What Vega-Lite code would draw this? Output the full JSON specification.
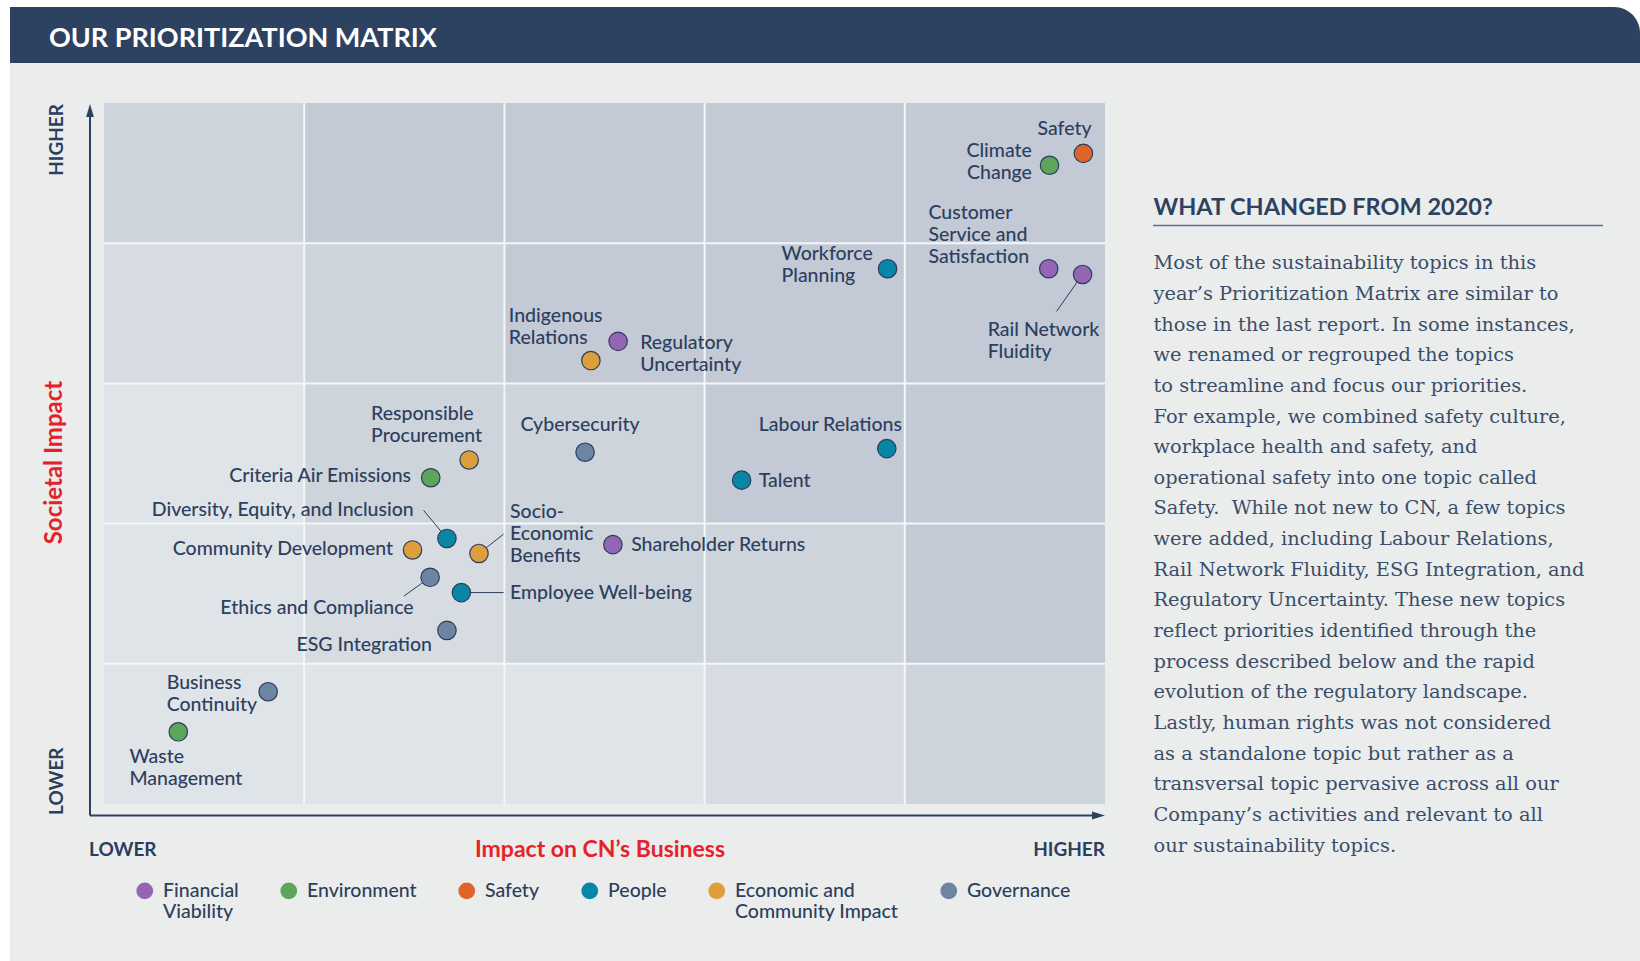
{
  "$schema": "https://vega.github.io/schema/vega-lite/v6.json",
  "width": 1640,
  "height": 961,
  "autosize": {"type": "none"},
  "padding": 0,
  "background": "#FFFFFF",
  "config": {"view": {"stroke": null}, "axis": {"disable": true}, "font": "Lato"},
  "datasets": {
    "topics": [
      {"topic": "Safety", "cat": "Safety", "impact": 4.892, "societal": 4.641, "label": "Safety", "lx": 4.933, "ly": 4.818, "side": "right"},
      {"topic": "Climate Change", "cat": "Environment", "impact": 4.723, "societal": 4.556, "label": ["Climate", "Change"], "lx": 4.635, "ly": 4.6555, "side": "right"},
      {"topic": "Customer Service and Satisfaction", "cat": "Financial Viability", "impact": 4.719, "societal": 3.818, "label": ["Customer", "Service and", "Satisfaction"], "lx": 4.118, "ly": 4.2119, "side": "left"},
      {"topic": "Rail Network Fluidity", "cat": "Financial Viability", "impact": 4.888, "societal": 3.777, "label": ["Rail Network", "Fluidity"], "lx": 4.414, "ly": 3.3835, "side": "left", "endImpact": 4.758, "endSocietal": 3.514},
      {"topic": "Workforce Planning", "cat": "People", "impact": 3.914, "societal": 3.818, "label": ["Workforce", "Planning"], "lx": 3.384, "ly": 3.9195, "side": "left"},
      {"topic": "Indigenous Relations", "cat": "Economic and Community Impact", "impact": 2.432, "societal": 3.163, "label": ["Indigenous", "Relations"], "lx": 2.022, "ly": 3.4825, "side": "left"},
      {"topic": "Regulatory Uncertainty", "cat": "Financial Viability", "impact": 2.568, "societal": 3.3, "label": ["Regulatory", "Uncertainty"], "lx": 2.678, "ly": 3.2915, "side": "left"},
      {"topic": "Cybersecurity", "cat": "Governance", "impact": 2.403, "societal": 2.509, "label": "Cybersecurity", "lx": 2.08, "ly": 2.703, "side": "left"},
      {"topic": "Labour Relations", "cat": "People", "impact": 3.91, "societal": 2.535, "label": "Labour Relations", "lx": 3.27, "ly": 2.703, "side": "left"},
      {"topic": "Talent", "cat": "People", "impact": 3.185, "societal": 2.31, "label": "Talent", "lx": 3.27, "ly": 2.307, "side": "left"},
      {"topic": "Responsible Procurement", "cat": "Economic and Community Impact", "impact": 1.824, "societal": 2.454, "label": ["Responsible", "Procurement"], "lx": 1.334, "ly": 2.7835, "side": "left"},
      {"topic": "Criteria Air Emissions", "cat": "Environment", "impact": 1.632, "societal": 2.327, "label": "Criteria Air Emissions", "lx": 1.534, "ly": 2.34, "side": "right"},
      {"topic": "Diversity, Equity, and Inclusion", "cat": "People", "impact": 1.713, "societal": 1.894, "label": "Diversity, Equity, and Inclusion", "lx": 1.547, "ly": 2.097, "side": "right", "endImpact": 1.596, "endSocietal": 2.095},
      {"topic": "Community Development", "cat": "Economic and Community Impact", "impact": 1.541, "societal": 1.812, "label": "Community Development", "lx": 1.444, "ly": 1.822, "side": "right"},
      {"topic": "Socio-Economic Benefits", "cat": "Economic and Community Impact", "impact": 1.873, "societal": 1.787, "label": ["Socio-", "Economic", "Benefits"], "lx": 2.028, "ly": 2.0849, "side": "left", "endImpact": 1.996, "endSocietal": 1.925},
      {"topic": "Shareholder Returns", "cat": "Financial Viability", "impact": 2.542, "societal": 1.85, "label": "Shareholder Returns", "lx": 2.633, "ly": 1.849, "side": "left"},
      {"topic": "Ethics and Compliance", "cat": "Governance", "impact": 1.629, "societal": 1.617, "label": "Ethics and Compliance", "lx": 1.547, "ly": 1.398, "side": "right", "endImpact": 1.4985, "endSocietal": 1.4836},
      {"topic": "Employee Well-being", "cat": "People", "impact": 1.785, "societal": 1.508, "label": "Employee Well-being", "lx": 2.028, "ly": 1.508, "side": "left", "endImpact": 1.996, "endSocietal": 1.508},
      {"topic": "ESG Integration", "cat": "Governance", "impact": 1.713, "societal": 1.238, "label": "ESG Integration", "lx": 1.638, "ly": 1.134, "side": "right"},
      {"topic": "Business Continuity", "cat": "Governance", "impact": 0.82, "societal": 0.801, "label": ["Business", "Continuity"], "lx": 0.313, "ly": 0.8645, "side": "left"},
      {"topic": "Waste Management", "cat": "Environment", "impact": 0.371, "societal": 0.515, "label": ["Waste", "Management"], "lx": 0.127, "ly": 0.3355, "side": "left"}
    ],
    "cells": [
      {"c0": 0, "c1": 1, "r0": 4, "r1": 5, "shade": 2},
      {"c0": 1, "c1": 2, "r0": 4, "r1": 5, "shade": 3},
      {"c0": 2, "c1": 3, "r0": 4, "r1": 5, "shade": 3},
      {"c0": 3, "c1": 4, "r0": 4, "r1": 5, "shade": 3},
      {"c0": 4, "c1": 5, "r0": 4, "r1": 5, "shade": 3},
      {"c0": 0, "c1": 1, "r0": 3, "r1": 4, "shade": 1},
      {"c0": 1, "c1": 2, "r0": 3, "r1": 4, "shade": 2},
      {"c0": 2, "c1": 3, "r0": 3, "r1": 4, "shade": 3},
      {"c0": 3, "c1": 4, "r0": 3, "r1": 4, "shade": 3},
      {"c0": 4, "c1": 5, "r0": 3, "r1": 4, "shade": 3},
      {"c0": 0, "c1": 1, "r0": 2, "r1": 3, "shade": 0},
      {"c0": 1, "c1": 2, "r0": 2, "r1": 3, "shade": 2},
      {"c0": 2, "c1": 3, "r0": 2, "r1": 3, "shade": 2},
      {"c0": 3, "c1": 4, "r0": 2, "r1": 3, "shade": 3},
      {"c0": 4, "c1": 5, "r0": 2, "r1": 3, "shade": 3},
      {"c0": 0, "c1": 1, "r0": 1, "r1": 2, "shade": 0},
      {"c0": 1, "c1": 2, "r0": 1, "r1": 2, "shade": 1},
      {"c0": 2, "c1": 3, "r0": 1, "r1": 2, "shade": 2},
      {"c0": 3, "c1": 4, "r0": 1, "r1": 2, "shade": 2},
      {"c0": 4, "c1": 5, "r0": 1, "r1": 2, "shade": 3},
      {"c0": 0, "c1": 1, "r0": 0, "r1": 1, "shade": 0},
      {"c0": 1, "c1": 2, "r0": 0, "r1": 1, "shade": 0},
      {"c0": 2, "c1": 3, "r0": 0, "r1": 1, "shade": 0},
      {"c0": 3, "c1": 4, "r0": 0, "r1": 1, "shade": 1},
      {"c0": 4, "c1": 5, "r0": 0, "r1": 1, "shade": 2}
    ],
    "gridlines": [{"at": 1}, {"at": 2}, {"at": 3}, {"at": 4}]
  },
  "layer": [
    {
      "data": {"values": [{"part": "panel"}]},
      "mark": {"type": "rect", "fill": "#EBEDEC"},
      "encoding": {
        "x": {"datum": -0.46953, "type": "quantitative", "scale": {"domain": [-0.51948, 7.67233], "nice": false, "zero": false}, "axis": null},
        "x2": {"datum": 7.67233},
        "y": {"datum": 5.28531, "type": "quantitative", "scale": {"domain": [-1.11983, 5.73466], "nice": false, "zero": false}, "axis": null},
        "y2": {"datum": -1.11983}
      }
    },
    {
      "data": {"values": [{"part": "header"}]},
      "mark": {"type": "rect", "fill": "#2C4260", "cornerRadiusTopRight": 26},
      "encoding": {
        "x": {"datum": -0.46953, "type": "quantitative"},
        "x2": {"datum": 7.67233},
        "y": {"datum": 5.68474, "type": "quantitative"},
        "y2": {"datum": 5.28531}
      }
    },
    {
      "data": {"values": [{"t": "OUR PRIORITIZATION MATRIX"}]},
      "mark": {"type": "text", "align": "left", "baseline": "alphabetic", "font": "Lato", "fontWeight": 700, "fontSize": 27, "fill": "#FFFFFF"},
      "encoding": {
        "x": {"datum": -0.27473, "type": "quantitative"},
        "y": {"datum": 5.3995, "type": "quantitative"},
        "text": {"field": "t"}
      }
    },
    {
      "data": {"name": "cells"},
      "mark": {"type": "rect"},
      "encoding": {
        "x": {"field": "c0", "type": "quantitative", "scale": {"domain": [-0.51948, 7.67233], "nice": false, "zero": false}, "axis": null},
        "x2": {"field": "c1"},
        "y": {"field": "r0", "type": "quantitative", "scale": {"domain": [-1.11983, 5.73466], "nice": false, "zero": false}, "axis": null},
        "y2": {"field": "r1"},
        "fill": {"field": "shade", "type": "ordinal", "scale": {"domain": [0, 1, 2, 3], "range": ["#DFE4E8", "#D6DCE2", "#CDD4DC", "#C3CAD6"]}, "legend": null}
      }
    },
    {
      "data": {"name": "gridlines"},
      "mark": {"type": "rule", "stroke": "#F4F6F7", "strokeWidth": 2},
      "encoding": {
        "x": {"field": "at", "type": "quantitative"},
        "y": {"datum": 0, "type": "quantitative"},
        "y2": {"datum": 5}
      }
    },
    {
      "data": {"name": "gridlines"},
      "mark": {"type": "rule", "stroke": "#F4F6F7", "strokeWidth": 2},
      "encoding": {
        "y": {"field": "at", "type": "quantitative"},
        "x": {"datum": 0, "type": "quantitative"},
        "x2": {"datum": 5}
      }
    },
    {
      "data": {"values": [{"part": "y axis"}]},
      "mark": {"type": "rule", "stroke": "#2C4260", "strokeWidth": 2},
      "encoding": {
        "x": {"datum": -0.06993, "type": "quantitative"},
        "y": {"datum": -0.08203, "type": "quantitative"},
        "y2": {"datum": 4.9465}
      }
    },
    {
      "data": {"values": [{"part": "x axis"}]},
      "mark": {"type": "rule", "stroke": "#2C4260", "strokeWidth": 2},
      "encoding": {
        "y": {"datum": -0.08203, "type": "quantitative"},
        "x": {"datum": -0.06993, "type": "quantitative"},
        "x2": {"datum": 4.96753}
      }
    },
    {
      "data": {"values": [{"part": "y arrow"}]},
      "mark": {"type": "point", "shape": "M0,-1L0.6,1L-0.6,1Z", "size": 169, "filled": true, "fill": "#2C4260", "opacity": 1, "strokeWidth": 0},
      "encoding": {
        "x": {"datum": -0.06993, "type": "quantitative"},
        "y": {"datum": 4.9465, "type": "quantitative"}
      }
    },
    {
      "data": {"values": [{"part": "x arrow"}]},
      "mark": {"type": "point", "shape": "M1,0L-1,0.6L-1,-0.6Z", "size": 169, "filled": true, "fill": "#2C4260", "opacity": 1, "strokeWidth": 0},
      "encoding": {
        "x": {"datum": 4.96753, "type": "quantitative"},
        "y": {"datum": -0.08203, "type": "quantitative"}
      }
    },
    {
      "data": {"values": [{"t": "HIGHER"}]},
      "mark": {"type": "text", "angle": 270, "align": "right", "baseline": "middle", "font": "Lato", "fontWeight": 700, "fontSize": 19, "fill": "#2C3E5D"},
      "encoding": {"x": {"datum": -0.23477, "type": "quantitative"}, "y": {"datum": 4.99287, "type": "quantitative"}, "text": {"field": "t"}}
    },
    {
      "data": {"values": [{"t": "LOWER"}]},
      "mark": {"type": "text", "angle": 270, "align": "left", "baseline": "middle", "font": "Lato", "fontWeight": 700, "fontSize": 19, "fill": "#2C3E5D"},
      "encoding": {"x": {"datum": -0.23477, "type": "quantitative"}, "y": {"datum": -0.07846, "type": "quantitative"}, "text": {"field": "t"}}
    },
    {
      "data": {"values": [{"t": "Societal Impact"}]},
      "mark": {"type": "text", "angle": 270, "align": "center", "baseline": "middle", "font": "Lato", "fontWeight": 700, "fontSize": 24, "fill": "#E8202A"},
      "encoding": {"x": {"datum": -0.24476, "type": "quantitative"}, "y": {"datum": 2.43581, "type": "quantitative"}, "text": {"field": "t"}}
    },
    {
      "data": {"values": [{"t": "LOWER"}]},
      "mark": {"type": "text", "align": "left", "baseline": "middle", "font": "Lato", "fontWeight": 700, "fontSize": 19, "fill": "#2C3E5D"},
      "encoding": {"x": {"datum": -0.07493, "type": "quantitative"}, "y": {"datum": -0.3281, "type": "quantitative"}, "text": {"field": "t"}}
    },
    {
      "data": {"values": [{"t": "HIGHER"}]},
      "mark": {"type": "text", "align": "right", "baseline": "middle", "font": "Lato", "fontWeight": 700, "fontSize": 19, "fill": "#2C3E5D"},
      "encoding": {"x": {"datum": 5.0, "type": "quantitative"}, "y": {"datum": -0.3281, "type": "quantitative"}, "text": {"field": "t"}}
    },
    {
      "data": {"values": [{"t": "Impact on CN’s Business"}]},
      "mark": {"type": "text", "align": "center", "baseline": "middle", "font": "Lato", "fontWeight": 700, "fontSize": 23, "fill": "#E8202A"},
      "encoding": {"x": {"datum": 2.47752, "type": "quantitative"}, "y": {"datum": -0.3281, "type": "quantitative"}, "text": {"field": "t"}}
    },
    {
      "data": {"name": "topics"},
      "transform": [{"filter": "isValid(datum.endImpact)"}],
      "mark": {"type": "rule", "stroke": "#2C3E5D", "strokeWidth": 1},
      "encoding": {
        "x": {"field": "impact", "type": "quantitative"},
        "y": {"field": "societal", "type": "quantitative"},
        "x2": {"field": "endImpact"},
        "y2": {"field": "endSocietal"}
      }
    },
    {
      "data": {"name": "topics"},
      "mark": {"type": "point", "filled": true, "size": 340, "opacity": 1, "stroke": "#2C3E5D", "strokeWidth": 1.2},
      "encoding": {
        "x": {"field": "impact", "type": "quantitative", "scale": {"domain": [-0.51948, 7.67233], "nice": false, "zero": false}, "axis": null},
        "y": {"field": "societal", "type": "quantitative", "scale": {"domain": [-1.11983, 5.73466], "nice": false, "zero": false}, "axis": null},
        "color": {
          "field": "cat",
          "type": "nominal",
          "scale": {
            "domain": ["Financial Viability", "Environment", "Safety", "People", "Economic and Community Impact", "Governance"],
            "range": ["#9565B5", "#5DA55A", "#E06327", "#0886A5", "#DC9F3B", "#6E84A3"]
          },
          "legend": {
            "orient": "none",
            "legendX": 135,
            "legendY": 881,
            "direction": "horizontal",
            "columns": 6,
            "columnPadding": 40,
            "title": null,
            "padding": 0,
            "symbolType": "circle",
            "symbolSize": 280,
            "symbolStrokeWidth": 0,
            "symbolOpacity": 1,
            "labelFont": "Lato",
            "labelFontSize": 19.5,
            "labelFontWeight": 500,
            "labelColor": "#2D3F5E",
            "labelOffset": 8.5,
            "labelLimit": 400,
            "labelBaseline": "middle",
            "labelExpr": "datum.label == 'Financial Viability' ? ['Financial', 'Viability'] : datum.label == 'Economic and Community Impact' ? ['Economic and', 'Community Impact'] : [datum.label, '']"
          }
        },
        "tooltip": {"field": "topic"}
      }
    },
    {
      "data": {"name": "topics"},
      "transform": [{"filter": "datum.side == 'left'"}],
      "mark": {"type": "text", "align": "left", "baseline": "middle", "font": "Lato", "fontWeight": 500, "fontSize": 19.5, "lineHeight": 22, "fill": "#2D3F5E"},
      "encoding": {
        "x": {"field": "lx", "type": "quantitative"},
        "y": {"field": "ly", "type": "quantitative"},
        "text": {"field": "label"}
      }
    },
    {
      "data": {"name": "topics"},
      "transform": [{"filter": "datum.side == 'right'"}],
      "mark": {"type": "text", "align": "right", "baseline": "middle", "font": "Lato", "fontWeight": 500, "fontSize": 19.5, "lineHeight": 22, "fill": "#2D3F5E"},
      "encoding": {
        "x": {"field": "lx", "type": "quantitative"},
        "y": {"field": "ly", "type": "quantitative"},
        "text": {"field": "label"}
      }
    },
    {
      "data": {"values": [{"t": "WHAT CHANGED FROM 2020?"}]},
      "mark": {"type": "text", "align": "left", "baseline": "alphabetic", "font": "Lato", "fontWeight": 700, "fontSize": 23.5, "fill": "#2C4260"},
      "encoding": {"x": {"datum": 5.24226, "type": "quantitative"}, "y": {"datum": 4.20114, "type": "quantitative"}, "text": {"field": "t"}}
    },
    {
      "data": {"values": [{"part": "underline"}]},
      "mark": {"type": "rule", "stroke": "#5F7290", "strokeWidth": 1.5},
      "encoding": {
        "x": {"datum": 5.23976, "type": "quantitative"},
        "x2": {"datum": 7.48751},
        "y": {"datum": 4.12625, "type": "quantitative"}
      }
    },
    {
      "data": {"values": [{"lines": [
        "Most of the sustainability topics in this",
        "year’s Prioritization Matrix are similar to",
        "those in the last report. In some instances,",
        "we renamed or regrouped the topics",
        "to streamline and focus our priorities.",
        "For example, we combined safety culture,",
        "workplace health and safety, and",
        "operational safety into one topic called",
        "Safety.\u00a0 While not new to CN, a few topics",
        "were added, including Labour Relations,",
        "Rail Network Fluidity, ESG Integration, and",
        "Regulatory Uncertainty. These new topics",
        "reflect priorities identified through the",
        "process described below and the rapid",
        "evolution of the regulatory landscape.",
        "Lastly, human rights was not considered",
        "as a standalone topic but rather as a",
        "transversal topic pervasive across all our",
        "Company’s activities and relevant to all",
        "our sustainability topics."
      ]}]},
      "mark": {"type": "text", "align": "left", "baseline": "alphabetic", "font": "DejaVu Serif", "fontSize": 19.4, "lineHeight": 30.65, "fill": "#3A4D6A"},
      "encoding": {"x": {"datum": 5.24226, "type": "quantitative"}, "y": {"datum": 3.81383, "type": "quantitative"}, "text": {"field": "lines"}}
    }
  ]
}
